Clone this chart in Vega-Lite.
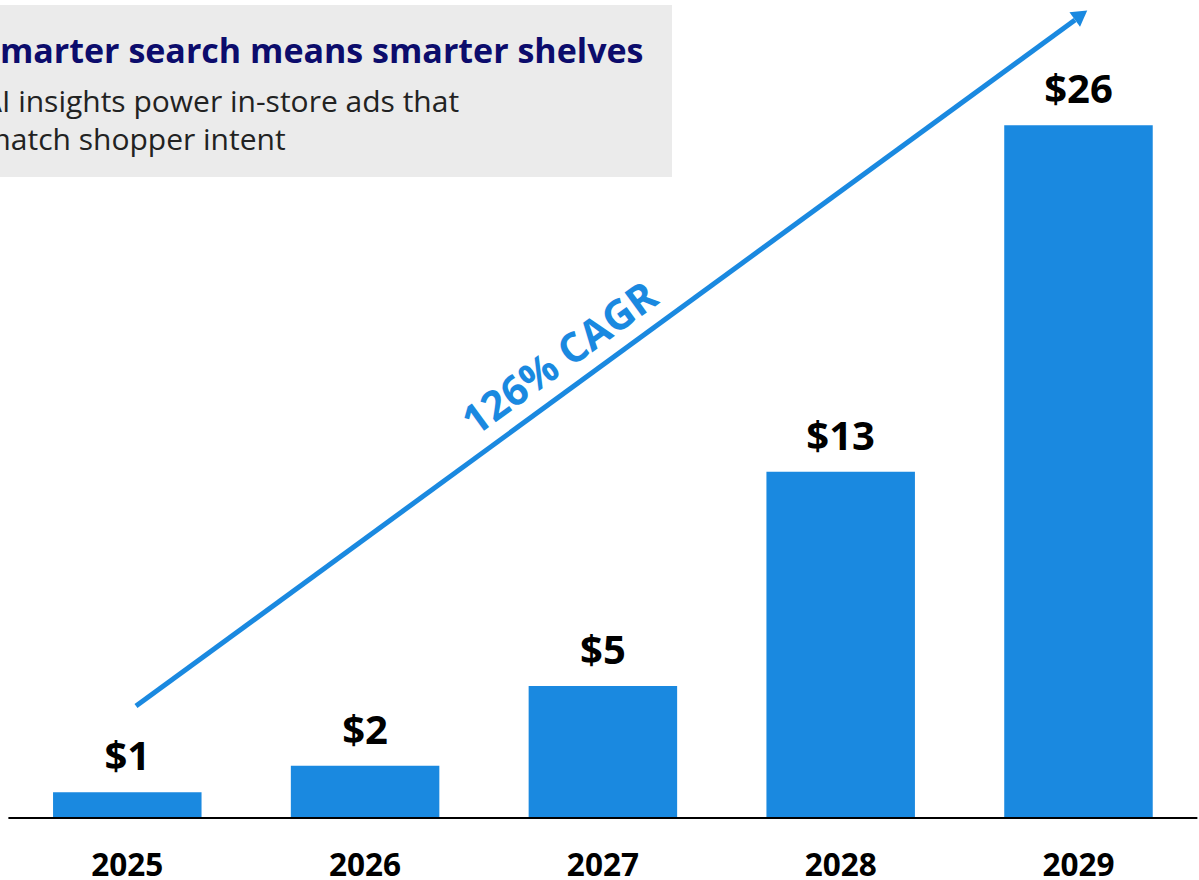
{
  "$schema": "https://vega.github.io/schema/vega-lite/v6.json",
  "width": 1199,
  "height": 818,
  "autosize": "none",
  "padding": {"left": 0, "top": 0, "right": 0, "bottom": 62},
  "background": "white",
  "config": {"view": {"stroke": null}, "font": "Open Sans"},
  "datasets": {
    "bars": [
      {"year": 2025, "value": 0.965, "label": "$1"},
      {"year": 2026, "value": 1.96, "label": "$2"},
      {"year": 2027, "value": 4.955, "label": "$5"},
      {"year": 2028, "value": 13.0, "label": "$13"},
      {"year": 2029, "value": 26.0, "label": "$26"}
    ],
    "box": [{"x": 2024.40, "x2": 2027.2906, "y": 30.518, "y2": 24.06}],
    "title": [{"x": 2024.3932, "y": 28.34, "text": "smarter search means smarter shelves"}],
    "subtitle": [
      {"x": 2024.3932, "y": 26.50, "text": "AI insights power in-store ads that"},
      {"x": 2024.3932, "y": 25.08, "text": "match shopper intent"}
    ],
    "baseline": [{"x": 2024.5, "x2": 2029.5, "y": 0}],
    "arrow": [{"x": 2025.0366, "y": 4.204, "x2": 2028.9853, "y2": 29.955}],
    "head": [{"x": 2029.0105, "y": 30.143}],
    "cagr": [{"x": 2026.8238, "y": 17.19, "text": "126% CAGR"}]
  },
  "layer": [
    {
      "data": {"name": "box"},
      "mark": {"type": "rect", "color": "#ebebeb"},
      "encoding": {
        "x": {"field": "x", "type": "quantitative", "scale": {"domain": [2024.4647, 2029.5068], "zero": false, "nice": false, "padding": 0}, "axis": null},
        "x2": {"field": "x2"},
        "y": {"field": "y", "type": "quantitative", "scale": {"domain": [0, 30.705], "zero": false, "nice": false, "padding": 0}, "axis": null},
        "y2": {"field": "y2"}
      }
    },
    {
      "data": {"name": "title"},
      "mark": {"type": "text", "align": "left", "baseline": "alphabetic", "fontSize": 34, "fontWeight": "bold", "color": "#0c0c6c"},
      "encoding": {
        "x": {"field": "x", "type": "quantitative", "axis": null},
        "y": {"field": "y", "type": "quantitative", "axis": null},
        "text": {"field": "text"}
      }
    },
    {
      "data": {"name": "subtitle"},
      "mark": {"type": "text", "align": "left", "baseline": "alphabetic", "fontSize": 30, "color": "#222222"},
      "encoding": {
        "x": {"field": "x", "type": "quantitative", "axis": null},
        "y": {"field": "y", "type": "quantitative", "axis": null},
        "text": {"field": "text"}
      }
    },
    {
      "data": {"name": "bars"},
      "mark": {"type": "bar", "width": 148.5, "color": "#1a89e0"},
      "encoding": {
        "x": {"field": "year", "type": "quantitative", "axis": null},
        "y": {"field": "value", "type": "quantitative", "axis": null}
      }
    },
    {
      "data": {"name": "baseline"},
      "mark": {"type": "rule", "color": "#000000", "strokeWidth": 2},
      "encoding": {
        "x": {"field": "x", "type": "quantitative", "axis": null},
        "x2": {"field": "x2"},
        "y": {"field": "y", "type": "quantitative", "axis": null}
      }
    },
    {
      "data": {"name": "bars"},
      "mark": {"type": "text", "align": "center", "baseline": "alphabetic", "dy": -22, "fontSize": 40, "fontWeight": "bold", "color": "#000000"},
      "encoding": {
        "x": {"field": "year", "type": "quantitative", "axis": null},
        "y": {"field": "value", "type": "quantitative", "axis": null},
        "text": {"field": "label"}
      }
    },
    {
      "data": {"name": "bars"},
      "mark": {"type": "text", "align": "center", "baseline": "middle", "dy": 49, "fontSize": 31.5, "fontWeight": "bold", "color": "#000000"},
      "encoding": {
        "x": {"field": "year", "type": "quantitative", "axis": null},
        "y": {"datum": 0, "type": "quantitative", "axis": null},
        "text": {"field": "year", "type": "quantitative", "format": "d"}
      }
    },
    {
      "data": {"name": "arrow"},
      "mark": {"type": "rule", "color": "#1a89e0", "strokeWidth": 5},
      "encoding": {
        "x": {"field": "x", "type": "quantitative", "axis": null},
        "x2": {"field": "x2"},
        "y": {"field": "y", "type": "quantitative", "axis": null},
        "y2": {"field": "y2"}
      }
    },
    {
      "data": {"name": "head"},
      "mark": {"type": "point", "shape": "triangle-up", "size": 320, "filled": true, "opacity": 1, "color": "#1a89e0", "angle": 53.8},
      "encoding": {
        "x": {"field": "x", "type": "quantitative", "axis": null},
        "y": {"field": "y", "type": "quantitative", "axis": null}
      }
    },
    {
      "data": {"name": "cagr"},
      "mark": {"type": "text", "align": "center", "baseline": "middle", "angle": -36, "fontSize": 41, "fontWeight": "bold", "color": "#1a89e0"},
      "encoding": {
        "x": {"field": "x", "type": "quantitative", "axis": null},
        "y": {"field": "y", "type": "quantitative", "axis": null},
        "text": {"field": "text"}
      }
    }
  ]
}
